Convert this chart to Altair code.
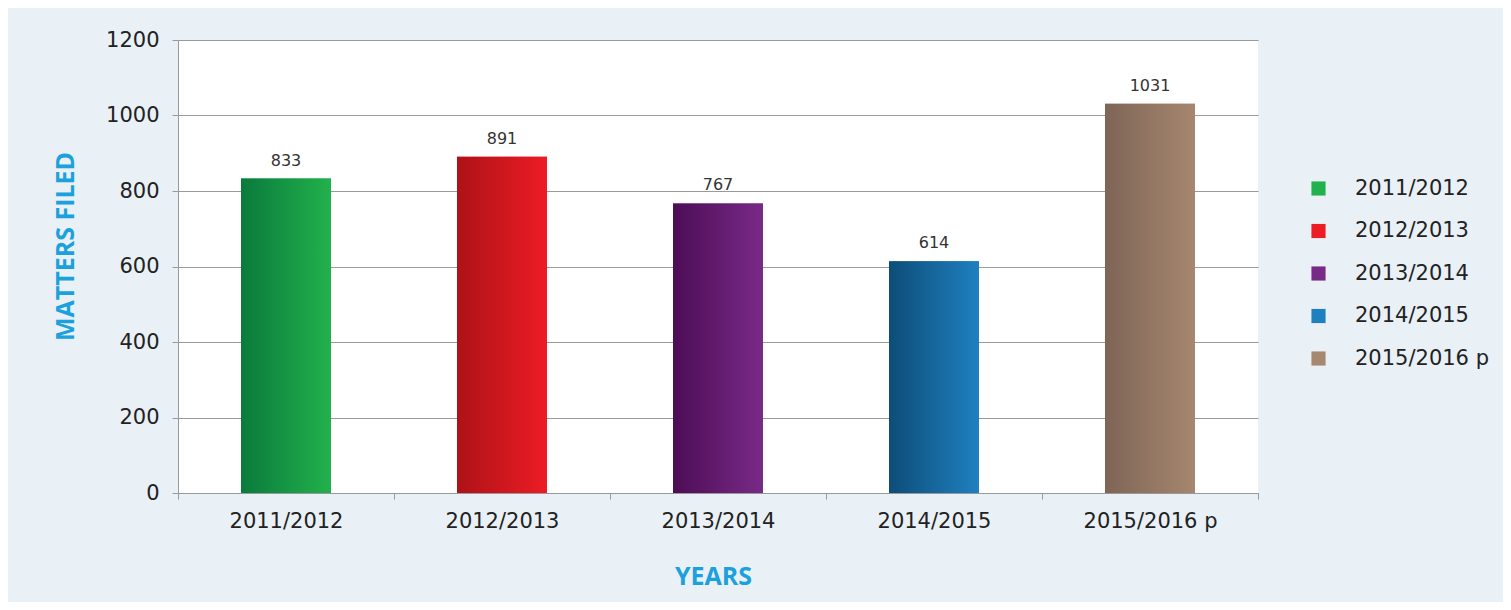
import altair as alt
import pandas as pd

years = ["2011/2012", "2012/2013", "2013/2014", "2014/2015", "2015/2016 p"]
matters = [833, 891, 767, 614, 1031]
light_colors = ["#22b14c", "#ed1c24", "#782a87", "#1f80c0", "#a6876f"]
dark_colors = ["#0a7a3c", "#ad1218", "#4c0d55", "#0d4d78", "#7e6556"]

df = pd.DataFrame({"year": years, "value": matters})

FONT = "DejaVu Sans"
TFONT = "Open Sans"
BLUE = "#1ba1dc"

x_enc = alt.X(
    "year:N", sort=years,
    scale=alt.Scale(paddingInner=0, paddingOuter=0),
    axis=alt.Axis(
        title="YEARS", titleFont=TFONT, titleFontSize=25, titleFontWeight="bold",
        titleColor=BLUE, titleX=535, titleY=83, titleBaseline="middle",
        labelAngle=0, labelFont=FONT, labelFontSize=21, labelColor="#222",
        labelPadding=11, tickBand="extent", tickSize=6, tickColor="#999",
        domainColor="#999", grid=False,
    ),
)
y_enc = alt.Y(
    "value:Q",
    scale=alt.Scale(domain=[0, 1200]),
    axis=alt.Axis(
        title="MATTERS FILED", titleFont=TFONT, titleFontSize=25, titleFontWeight="bold",
        titleColor=BLUE, titleX=-113, titleY=206, titleBaseline="middle", titleAlign="center",
        values=[0, 200, 400, 600, 800, 1000, 1200], format="d",
        labelFont=FONT, labelFontSize=21, labelColor="#222", labelPadding=13,
        tickSize=6, tickColor="#999", domainColor="#999",
        grid=True, gridColor="#9a9a9a", gridWidth=1,
    ),
)

base = alt.Chart(df).mark_bar(size=90).encode(
    x=x_enc,
    y=y_enc,
    color=alt.Color(
        "year:N", sort=years,
        scale=alt.Scale(domain=years, range=light_colors),
        legend=alt.Legend(
            title=None, orient="none", legendX=1130, legendY=138,
            symbolType="square", symbolSize=200, symbolStrokeWidth=0,
            labelFont=FONT, labelFontSize=21, labelColor="#222",
            labelOffset=26, rowPadding=20.5,
        ),
    ),
)

layers = [base]
for yr, light, dark in zip(years, light_colors, dark_colors):
    grad = alt.LinearGradient(
        gradient="linear",
        stops=[alt.GradientStop(color=dark, offset=0), alt.GradientStop(color=light, offset=1)],
        x1=0, x2=1, y1=0, y2=0,
    )
    layers.append(
        alt.Chart(df).transform_filter(alt.datum.year == yr)
        .mark_bar(size=90, color=grad)
        .encode(x=alt.X("year:N", sort=years), y="value:Q")
    )

text = alt.Chart(df).mark_text(dy=-18, font=FONT, fontSize=16, color="#333").encode(
    x=alt.X("year:N", sort=years), y="value:Q", text="value:Q"
)
layers.append(text)

chart = alt.layer(*layers).properties(
    width=1080, height=453,
    background="#e9f0f6",
    padding={"left": 170, "top": 32, "right": 245, "bottom": 109},
    autosize=alt.AutoSizeParams(type="none"),
).configure_view(fill="white", stroke=None)

chart.save("out.html", embed_options={"renderer": "svg", "actions": False})
